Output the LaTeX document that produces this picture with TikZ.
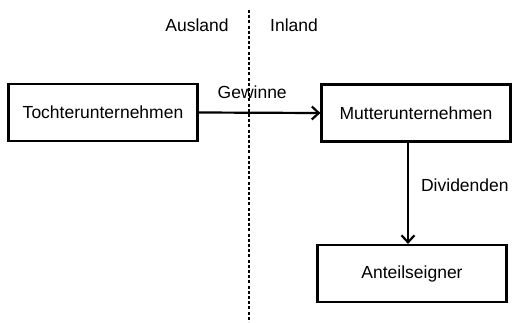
\documentclass[tikz,border=0pt]{standalone}
\usepackage{fontspec}
\setmainfont{Liberation Sans}
\usetikzlibrary{arrows.meta}
\begin{document}
\begin{tikzpicture}[x=1pt,y=-1pt,
  boxstyle/.style={draw,line width=2.2pt,minimum width=189pt,minimum height=57pt,inner sep=0pt,font=\fontsize{17.5}{20}\selectfont},
  lbl/.style={font=\fontsize{17.5}{20}\selectfont,inner sep=0pt},
  flow/.style={line width=2.2pt,-{Straight Barb[length=7pt,width=13pt,line width=2.2pt]}},
  border/.style={line width=2pt,dash pattern=on 3pt off 2.2pt}]
\useasboundingbox (0,0) rectangle (514,322);
\coordinate (top) at (249,10);
\coordinate (bot) at (249,322);
\draw[border] (top) -- (bot);
\node[boxstyle] (toch) at (103,112.5) {Tochterunternehmen};
\node[boxstyle] (mutt) at (416,113) {Mutterunternehmen};
\node[boxstyle] (anteil) at (412,273.5) {Anteilseigner};
\node[lbl] (aus) at (197,25) {Ausland};
\node[lbl] (inl) at (294,25) {Inland};
\draw[flow] (toch.east) -- (mutt.west) node[lbl,pos=0.44,above=13pt] (gew) {Gewinne};
\draw[flow] (mutt.south -| 408,0) -- (anteil.north -| 408,0) node[lbl,pos=0.42,right=12pt] (div) {Dividenden};
\end{tikzpicture}
\end{document}
